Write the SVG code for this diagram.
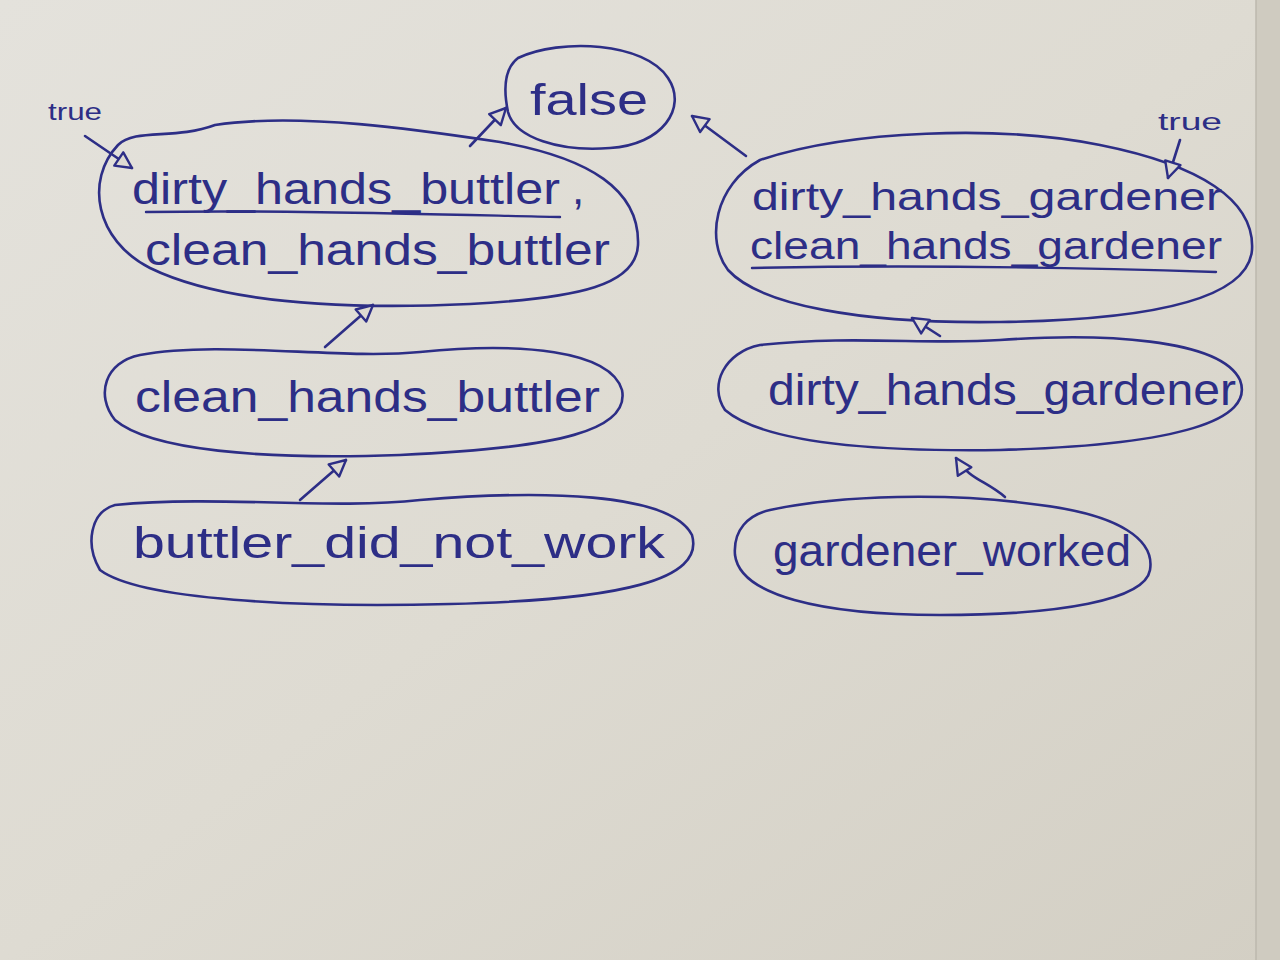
<svg xmlns="http://www.w3.org/2000/svg" width="1280" height="960" viewBox="0 0 1280 960">
<defs>
<linearGradient id="paper" x1="0" y1="0" x2="1" y2="1">
<stop offset="0" stop-color="#e4e2dc"/>
<stop offset="0.5" stop-color="#dedbd2"/>
<stop offset="1" stop-color="#d3cfc4"/>
</linearGradient>
<marker id="tri" viewBox="0 0 20 20" refX="18" refY="10" markerWidth="20" markerHeight="20" markerUnits="userSpaceOnUse" orient="auto">
<path d="M2,2 L18,10 L2,18 Z" fill="#dedbd2" stroke="#2d2e86" stroke-width="2.4" stroke-linejoin="round"/>
</marker>
<style>
.node{fill:none;stroke:#2d2e86;stroke-width:2.6;stroke-linejoin:round}
.lbl{font-family:"Liberation Sans","DejaVu Sans",sans-serif;fill:#2d2e86;font-size:44px}
.lbl2{font-family:"Liberation Sans","DejaVu Sans",sans-serif;fill:#2d2e86;font-size:38px}
.small{font-family:"Liberation Sans","DejaVu Sans",sans-serif;fill:#2d2e86;font-size:24px}
.edge{fill:none;stroke:#2d2e86;stroke-width:2.6;stroke-linecap:round;marker-end:url(#tri)}
.ul{stroke:#2d2e86;stroke-width:2.4;fill:none;stroke-linecap:round}
</style>
</defs>
<rect x="0" y="0" width="1280" height="960" fill="url(#paper)"/>
<rect x="1256" y="0" width="24" height="960" fill="#cfcbc0"/>
<line x1="1256" y1="0" x2="1256" y2="960" stroke="#bdb9ae" stroke-width="1.5"/>

<g id="false">
<path class="node" d="M518,58 C560,38 645,42 668,78 C688,108 662,145 610,148 C560,152 515,138 508,112 C503,88 505,68 518,58 Z"/>
<text class="lbl" x="530" y="115" textLength="118" lengthAdjust="spacingAndGlyphs">false</text>
</g>

<g id="dirty_butler_clean_butler">
<path class="node" d="M118,145 C135,128 175,140 215,125 C300,112 420,130 500,142 C590,158 640,190 638,245 C636,285 580,298 470,304 C340,310 220,302 150,268 C95,240 85,180 118,145 Z"/>
<text class="lbl" x="132" y="204" textLength="428" lengthAdjust="spacingAndGlyphs">dirty_hands_buttler</text>
<path class="ul" d="M146,212 C280,210 420,214 560,217"/>
<text class="lbl" x="572" y="204">,</text>
<text class="lbl" x="145" y="265" textLength="465" lengthAdjust="spacingAndGlyphs">clean_hands_buttler</text>
</g>

<g id="dirty_gardener_clean_gardener">
<path class="node" d="M760,160 C850,130 1000,125 1100,145 C1200,165 1255,200 1252,250 C1248,300 1150,320 1000,322 C860,324 760,305 728,270 C705,240 715,185 760,160 Z"/>
<text class="lbl2" x="752" y="210" textLength="470" lengthAdjust="spacingAndGlyphs">dirty_hands_gardener</text>
<text class="lbl2" x="750" y="259" textLength="472" lengthAdjust="spacingAndGlyphs">clean_hands_gardener</text>
<path class="ul" d="M752,268 C900,265 1060,267 1216,272"/>
</g>

<g id="clean_hands_buttler">
<path class="node" d="M140,355 C220,340 340,360 420,352 C520,342 610,350 622,390 C630,430 560,448 400,455 C260,460 150,450 115,420 C95,395 105,362 140,355 Z"/>
<text class="lbl" x="135" y="412" textLength="465" lengthAdjust="spacingAndGlyphs">clean_hands_buttler</text>
</g>

<g id="dirty_hands_gardener">
<path class="node" d="M760,345 C850,335 930,345 1000,340 C1100,333 1220,338 1240,380 C1255,420 1180,445 1000,450 C860,452 760,440 725,410 C708,385 725,352 760,345 Z"/>
<text class="lbl" x="768" y="405" textLength="468" lengthAdjust="spacingAndGlyphs">dirty_hands_gardener</text>
</g>

<g id="buttler_did_not_work">
<path class="node" d="M115,505 C220,495 330,510 420,500 C540,490 670,492 692,535 C705,580 620,600 450,604 C300,608 140,600 100,570 C85,545 90,512 115,505 Z"/>
<text class="lbl" x="133" y="558" textLength="532" lengthAdjust="spacingAndGlyphs">buttler_did_not_work</text>
</g>

<g id="gardener_worked">
<path class="node" d="M770,510 C840,495 950,492 1040,505 C1120,515 1155,540 1150,570 C1145,600 1060,615 940,615 C820,615 740,595 735,555 C733,530 748,515 770,510 Z"/>
<text class="lbl" x="773" y="566" textLength="358" lengthAdjust="spacingAndGlyphs">gardener_worked</text>
</g>

<g id="true_labels">
<text class="small" x="48" y="120" textLength="54" lengthAdjust="spacingAndGlyphs">true</text>
<text class="small" x="1158" y="130" textLength="64" lengthAdjust="spacingAndGlyphs">true</text>
</g>

<g id="connectors">
<path class="edge" d="M470,146 L506,108"/>
<path class="edge" d="M746,156 L692,116"/>
<path class="edge" d="M325,347 L373,305"/>
<path class="edge" d="M300,500 L346,460"/>
<path class="edge" d="M940,336 L912,318"/>
<path class="edge" d="M1005,497 C985,480 970,480 956,458"/>
<path class="edge" d="M85,136 L132,168"/>
<path class="edge" d="M1180,140 L1168,178"/>
</g>
</svg>
